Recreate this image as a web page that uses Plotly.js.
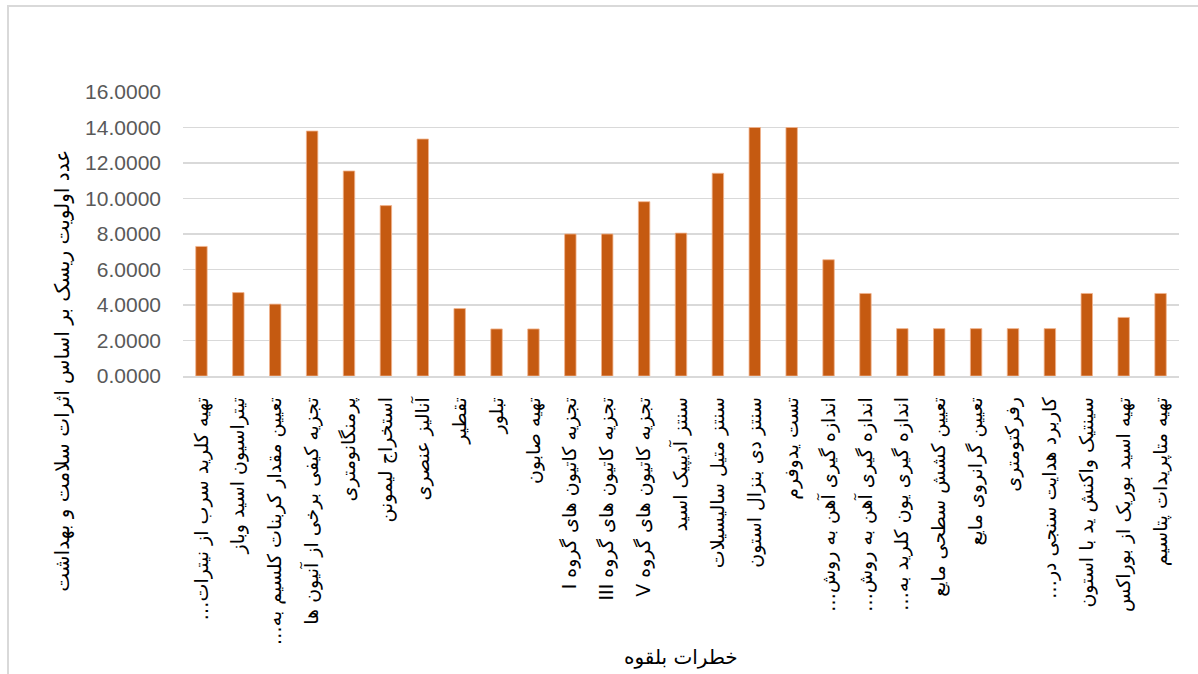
<!DOCTYPE html>
<html>
<head>
<meta charset="utf-8">
<script src="https://cdn.plot.ly/plotly-3.0.1.min.js"></script>
<style>
  html, body { margin: 0; padding: 0; background: #ffffff; }
  #wrap { position: relative; width: 1198px; height: 674px; overflow: hidden; }
  #frame { position: absolute; left: 7px; top: 5px; width: 1200px; height: 700px;
           border-top: 2px solid #d9d9d9; border-left: 2px solid #d9d9d9; box-sizing: border-box; }
  #chart { position: absolute; left: 0; top: 0; width: 1198px; height: 674px; }
</style>
</head>
<body>
<div id="wrap">
  <div id="frame"></div>
  <div id="chart"></div>
</div>
<script>
// ---- data ----
const categories = [
  "تهیه کلرید سرب از نیترات…",
  "تیتراسیون اسید وباز",
  "تعیین مقدار کربنات کلسیم به…",
  "تجزیه کیفی برخی از آنیون ها",
  "پرمنگانومتری",
  "استخراج لیمونن",
  "آنالیز عنصری",
  "تقطیر",
  "تبلور",
  "تهیه صابون",
  "تجزیه کاتیون های گروه I",
  "تجزیه کاتیون های گروه III",
  "تجزیه کاتیون های گروه V",
  "سنتز آدیپیک اسید",
  "سنتز متیل سالیسیلات",
  "سنتز دی بنزال استون",
  "تست یدوفرم",
  "اندازه گیری آهن به روش…",
  "اندازه گیری آهن به روش…",
  "اندازه گیری یون کلرید به…",
  "تعیین کشش سطحی مایع",
  "تعیین گرانروی مایع",
  "رفرکتومتری",
  "کاربرد هدایت سنجی در…",
  "سینتیک واکنش ید با استون",
  "تهیه اسید بوریک از بوراکس",
  "تهیه متاپریدات پتاسیم"
];
const riskValues = [
  7.30, 4.70, 4.05, 13.80, 11.55, 9.60, 13.35, 3.80, 2.65, 2.65,
  8.00, 8.00, 9.82, 8.05, 11.42, 14.00, 14.00, 6.55, 4.65, 2.67,
  2.67, 2.67, 2.67, 2.67, 4.65, 3.30, 4.65
];
const yTickValues = [0, 2, 4, 6, 8, 10, 12, 14, 16];
const yAxisTitle = "عدد اولویت ریسک بر اساس اثرات سلامت و بهداشت";
const xAxisTitle = "خطرات بلقوه";

// right-to-left embedding so that the ellipsis and Latin numerals sit at the text's end
const rtl = s => "\u202B" + s + "\u202C";

// categories are positional indices so that duplicate labels stay separate bars
const idx = categories.map((_, i) => i);

const trace = {
  type: "bar",
  x: idx,
  y: riskValues,
  marker: { color: "#C55A11", line: { color: "#F1B48E", width: 0.8 } },
  hoverinfo: "y"
};

const layout = {
  width: 1198,
  height: 674,
  margin: { l: 183, r: 19, t: 92, b: 298 },
  paper_bgcolor: "rgba(0,0,0,0)",
  plot_bgcolor: "rgba(0,0,0,0)",
  showlegend: false,
  bargap: 0.69,
  xaxis: {
    tickmode: "array",
    tickvals: idx,
    ticktext: categories.map(rtl),
    tickangle: -90,
    range: [-0.5, categories.length - 0.5],
    showgrid: false,
    zeroline: false,
    showline: true,
    linecolor: "#d9d9d9",
    linewidth: 1.5,
    ticks: "",
    ticklabelstandoff: 12,
    tickfont: { family: "DejaVu Sans", size: 19, color: "#000000" },
    automargin: false
  },
  yaxis: {
    range: [0, 16],
    tickmode: "array",
    tickvals: yTickValues,
    ticktext: yTickValues.map(v => v.toFixed(4)),
    showgrid: true,
    gridcolor: "#d9d9d9",
    gridwidth: 1.5,
    zeroline: false,
    showline: false,
    ticks: "",
    ticklabelstandoff: 21,
    tickfont: { family: "Liberation Sans, Arial, sans-serif", size: 21, color: "#595959" },
    automargin: false
  },
  annotations: [
    {
      text: rtl(yAxisTitle),
      xref: "paper", yref: "paper",
      x: -0.121, y: 0.02,
      xanchor: "center", yanchor: "middle",
      textangle: -90,
      showarrow: false,
      font: { family: "DejaVu Sans", size: 20, color: "#000000" }
    },
    {
      text: rtl(xAxisTitle),
      xref: "paper", yref: "paper",
      x: 0.5, y: -0.99,
      xanchor: "center", yanchor: "middle",
      showarrow: false,
      font: { family: "DejaVu Sans", size: 20, color: "#000000" }
    }
  ]
};

Plotly.newPlot("chart", [trace], layout, { displayModeBar: false, staticPlot: true });
</script>
</body>
</html>
